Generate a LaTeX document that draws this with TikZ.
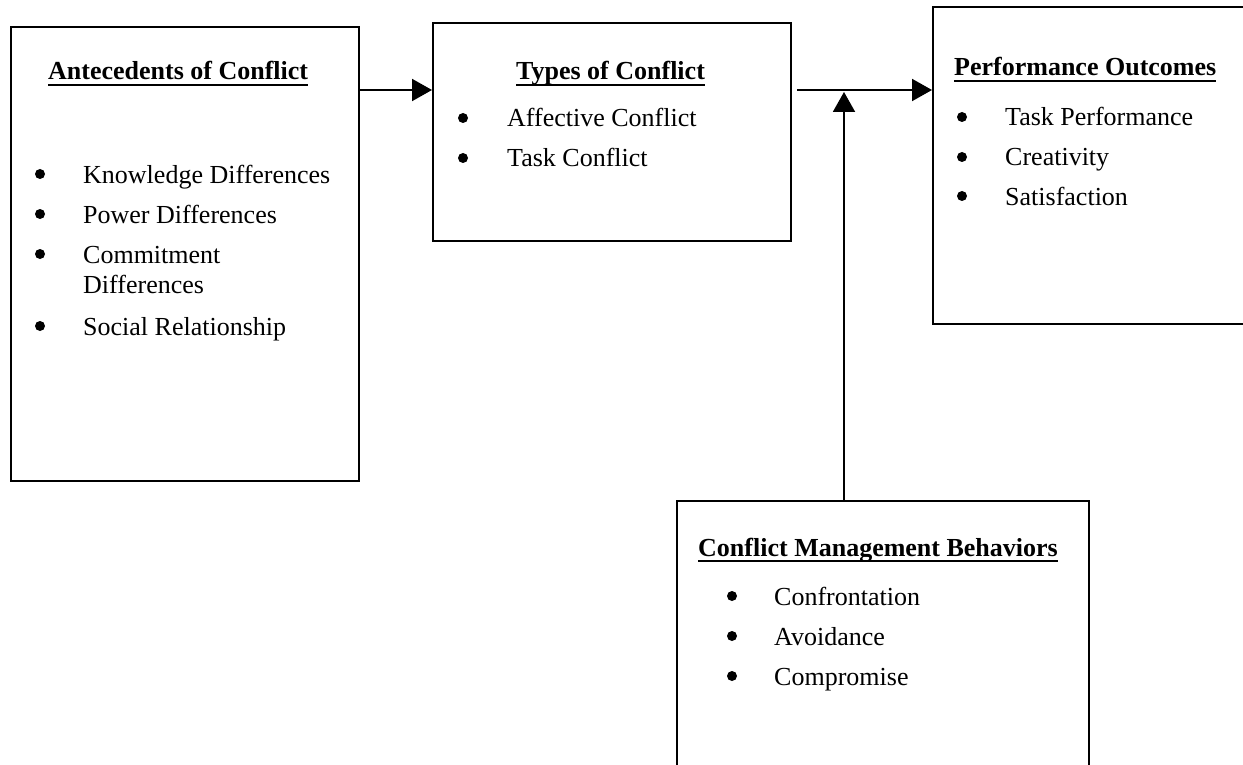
\documentclass[tikz,border=0pt]{standalone}
\usepackage{fontspec}
\setmainfont{Liberation Serif}
\usetikzlibrary{arrows.meta}
\begin{document}
\begin{tikzpicture}[x=1pt,y=-1pt,
  box/.style={draw,line width=2pt,rectangle,inner sep=0pt,anchor=north west},
  ttl/.style={anchor=base west,inner sep=0pt,font=\fontsize{26}{30}\selectfont\bfseries},
  itm/.style={anchor=base west,inner sep=0pt,font=\fontsize{26}{30}\selectfont},
  blt/.style={circle,fill,inner sep=0pt,minimum size=10pt,yshift=9pt},
  conn/.style={line width=2pt,-{Triangle[length=20pt,width=22pt]}},
  uline/.style={line width=2pt}]
\useasboundingbox (0,0) rectangle (1243,765);
\clip (0,0) rectangle (1243,765);
\fill[white] (0,0) rectangle (1243,765);
% boxes
\node[box,minimum width=348pt,minimum height=454pt] (b1) at (10,26) {};
\node[box,minimum width=358pt,minimum height=218pt] (b2) at (432,22) {};
\node[box,minimum width=340pt,minimum height=317pt] (b3) at (932,6) {};
\node[box,minimum width=412pt,minimum height=300pt] (b4) at (676,500) {};
% connectors
\coordinate (y90) at (0,90);
\coordinate (j) at (844,92);
\draw[conn] (b1.east |- y90) -- (b2.west |- y90);
\draw[conn] ([xshift=5pt]b2.east |- y90) -- (b3.west |- y90);
\draw[conn] (j |- b4.north) -- (j);
% box 1
\node[ttl] (t1) at (48,80) {Antecedents of Conflict};
\draw[uline] ([yshift=-5pt]t1.base west) -- ([yshift=-5pt]t1.base east);
\node[blt] (a1b) at (40,183) {};
\node[itm] (a1) at (83,183) {Knowledge Differences};
\node[blt] (a2b) at (40,223) {};
\node[itm] (a2) at (83,223) {Power Differences};
\node[blt] (a3b) at (40,263) {};
\node[itm] (a3) at (83,263) {Commitment};
\node[itm] (a3c) at (83,293) {Differences};
\node[blt] (a4b) at (40,335) {};
\node[itm] (a4) at (83,335) {Social Relationship};
% box 2
\node[ttl] (t2) at (516,80) {Types of Conflict};
\draw[uline] ([yshift=-5pt]t2.base west) -- ([yshift=-5pt]t2.base east);
\node[blt] (c1b) at (463,127) {};
\node[itm] (c1) at (507,127) {Affective Conflict};
\node[blt] (c2b) at (463,167) {};
\node[itm] (c2) at (507,167) {Task Conflict};
% box 3
\node[ttl] (t3) at (954,76) {Performance Outcomes};
\draw[uline] ([yshift=-5pt]t3.base west) -- ([yshift=-5pt]t3.base east);
\node[blt] (p1b) at (962,126) {};
\node[itm] (p1) at (1005,126) {Task Performance};
\node[blt] (p2b) at (962,166) {};
\node[itm] (p2) at (1005,166) {Creativity};
\node[blt] (p3b) at (962,205) {};
\node[itm] (p3) at (1005,205) {Satisfaction};
% box 4
\node[ttl] (t4) at (698,556) {Conflict Management Behaviors};
\draw[uline] ([yshift=-5pt]t4.base west) -- ([yshift=-5pt]t4.base east);
\node[blt] (m1b) at (732,605) {};
\node[itm] (m1) at (774,605) {Confrontation};
\node[blt] (m2b) at (732,645) {};
\node[itm] (m2) at (774,645) {Avoidance};
\node[blt] (m3b) at (732,685) {};
\node[itm] (m3) at (774,685) {Compromise};
\end{tikzpicture}
\end{document}
